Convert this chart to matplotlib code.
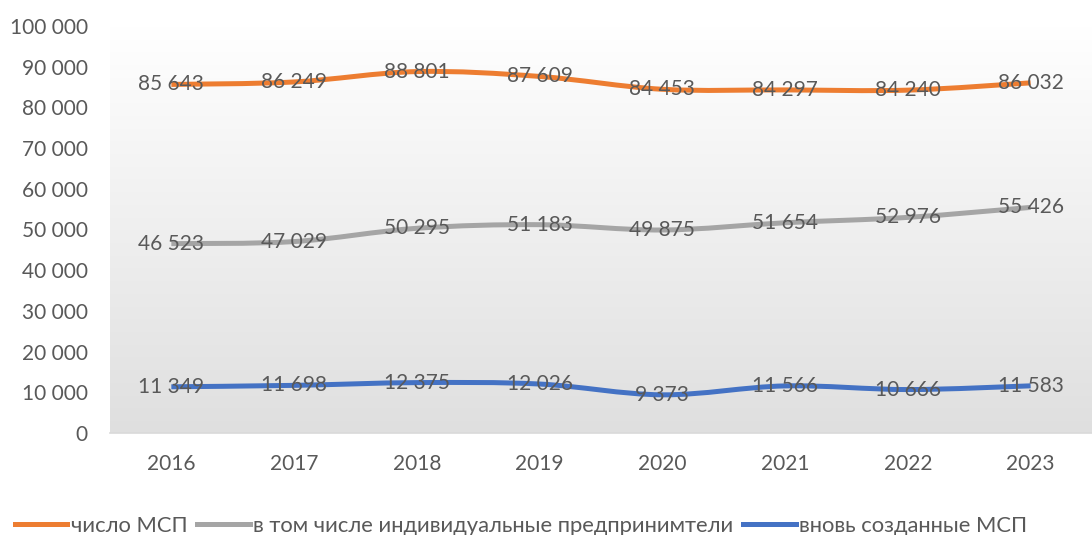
import matplotlib
matplotlib.use("Agg")
import matplotlib.pyplot as plt
import numpy as np
from matplotlib.ticker import FuncFormatter
from matplotlib.path import Path
from matplotlib.patches import PathPatch
from matplotlib.lines import Line2D

plt.rcParams['font.family'] = ['Lato', 'DejaVu Sans']

years = ['2016', '2017', '2018', '2019', '2020', '2021', '2022', '2023']
msp = [85643, 86249, 88801, 87609, 84453, 84297, 84240, 86032]
ip = [46523, 47029, 50295, 51183, 49875, 51654, 52976, 55426]
new_msp = [11349, 11698, 12375, 12026, 9373, 11566, 10666, 11583]
labels = ['число МСП', 'в том числе индивидуальные предпринимтели', 'вновь созданные МСП']
colors = ['#ED7D31', '#A5A5A5', '#4472C4']

txt = '#595959'
fig = plt.figure(figsize=(10.92, 5.35), dpi=100)
ax = fig.add_axes([0.1007, 0.1907, 0.8993, 0.7607])

x = np.arange(len(years))
ax.set_xlim(-0.5, len(years) - 0.5)
ax.set_ylim(0, 100000)

# gradient background
grad = np.linspace(1.0, 0.0, 256).reshape(-1, 1)
top = np.array([1.0, 1.0, 1.0])
bot = np.array([0.875, 0.875, 0.875])
img = top * grad[..., None] + bot * (1 - grad[..., None])
ax.imshow(img, extent=[-0.5, len(years) - 0.5, 0, 100000], aspect='auto', zorder=0, origin='upper')


def smooth_path(xs, ys):
    pts = np.column_stack([xs, ys]).astype(float)
    n = len(pts)
    verts = [pts[0]]
    codes = [Path.MOVETO]
    for i in range(n - 1):
        p0 = pts[i - 1] if i > 0 else pts[i]
        p1 = pts[i]
        p2 = pts[i + 1]
        p3 = pts[i + 2] if i + 2 < n else pts[i + 1]
        c1 = p1 + (p2 - p0) / 6.0
        c2 = p2 - (p3 - p1) / 6.0
        verts += [c1, c2, p2]
        codes += [Path.CURVE4] * 3
    return Path(verts, codes)


handles = []
for series, c, lab in zip([msp, ip, new_msp], colors, labels):
    patch = PathPatch(smooth_path(x, series), facecolor='none', edgecolor=c, lw=3.6,
                      zorder=2, capstyle='butt', joinstyle='round')
    ax.add_patch(patch)
    handles.append(Line2D([], [], color=c, lw=3.6, label=lab))
    for xi, v in zip(x, series):
        ax.text(xi, v, f"{v:,}".replace(',', ' '), ha='center', va='center',
                fontsize=15, color=txt, zorder=3)

ax.set_xticks(x)
ax.set_xticklabels(years)
ax.set_yticks(np.arange(0, 100001, 10000))
ax.yaxis.set_major_formatter(FuncFormatter(lambda v, p: f"{int(v):,}".replace(',', ' ')))
ax.tick_params(axis='both', length=0, labelsize=15, labelcolor=txt)
ax.tick_params(axis='y', pad=16)
ax.tick_params(axis='x', pad=15)
for s in ['top', 'right', 'left']:
    ax.spines[s].set_visible(False)
ax.spines['bottom'].set_color('#d9d9d9')
ax.spines['bottom'].set_linewidth(1.2)

fig.legend(handles=handles, loc='center', bbox_to_anchor=(0.477, 0.017), ncol=3, frameon=False,
           fontsize=15.8, handlelength=2.4, handletextpad=0.15, columnspacing=0.45,
           labelcolor=txt)

fig.savefig('out.png', dpi=100)
